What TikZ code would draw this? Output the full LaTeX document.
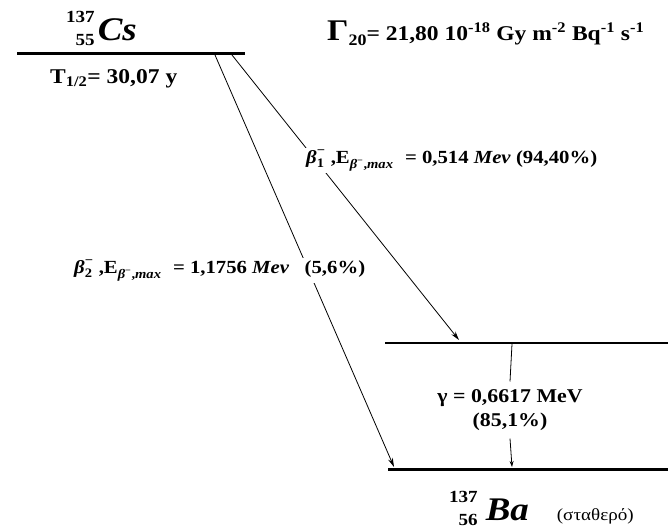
\documentclass[tikz,border=0pt]{standalone}
\usepackage{amsmath}
\usepackage{fontspec}
\setmainfont{Liberation Serif}[FakeStretch=1.12]
\usetikzlibrary{arrows.meta}

\newcommand{\fs}[1]{\fontsize{#1}{#1}\selectfont}
\newcommand{\nuc}[4]{\raisebox{-5pt}{\fs{17}\begin{tabular}[b]{@{}r@{}}#1\\[6pt]#2\end{tabular}}\hspace{#4}\textit{\fs{33}#3}}
\newcommand{\betalbl}[1]{$\text{\textit{β}}^{\text{−}}_{\text{#1}}$ ,E\raisebox{-5pt}{\fs{13}\textit{β}\textsuperscript{−},\textit{max}}\hspace{12pt}}

\begin{document}
\begin{tikzpicture}[x=1pt, y=-1pt,
    level/.style={line width=3pt},
    midlevel/.style={line width=2pt},
    decay/.style={line width=0.8pt, -{Stealth[length=9pt, width=5pt]}},
    lbl/.style={font=\bfseries\fs{18.5}, inner sep=2pt, fill=white, anchor=base west}]
  \useasboundingbox (0,0) rectangle (671,530);
  % levels
  \coordinate (cs-l) at (17,53);
  \coordinate (cs-r) at (245,53);
  \coordinate (ex-l) at (385,343);
  \coordinate (ex-r) at (668,343);
  \coordinate (gs-l) at (388,469);
  \coordinate (gs-r) at (668,469);
  \draw[level] (cs-l) -- (cs-r);
  \draw[midlevel] (ex-l) -- (ex-r);
  \draw[level] (gs-l) -- (gs-r);
  % labels
  \node[inner sep=0pt, anchor=base west] (cs) at (66,40) {\bfseries\nuc{137}{55}{Cs}{3pt}};
  \node[inner sep=0pt, anchor=base west] (dose) at (327,40)
    {\bfseries\fs{21}{\fs{30}Γ}\raisebox{-5pt}{\fs{16}20}= 21,80 10\textsuperscript{-18} Gy m\textsuperscript{-2} Bq\textsuperscript{-1} s\textsuperscript{-1}};
  \node[inner sep=0pt, anchor=base west] (half) at (50,83)
    {\bfseries\fs{21}T\textsubscript{1/2}= 30,07 y};
  % beta decays
  \coordinate (b1s) at (232,55);
  \coordinate (b2s) at (215,55);
  \coordinate (b1e) at (459,340);
  \coordinate (b2e) at (394,467);
  \draw[decay] (b1s) -- (b1e);
  \draw[decay] (b2s) -- (b2e);
  \node[lbl] (beta1) at (304,163) {\betalbl{1}= 0,514 \textit{Mev} (94,40\%)};
  \node[lbl] (beta2) at (72,273) {\betalbl{2}= 1,1756 \textit{Mev} \ \ (5,6\%)};
  % gamma
  \coordinate (g-top) at (512,344);
  \coordinate (g-bot) at (512,467);
  \node[align=center, inner sep=0pt, font=\bfseries\fs{19.5}] (gam) at (510,410)
    {γ = 0,6617 MeV\\[4pt](85,1\%)};
  \draw[line width=0.8pt] (g-top) -- ([yshift=8pt]gam.north);
  \draw[line width=0.8pt, -{Stealth[length=6pt, width=4pt]}] ([yshift=-8pt]gam.south) -- (g-bot);
  % product
  \node[inner sep=0pt, anchor=base west] (ba) at (449,520)
    {\bfseries\nuc{137}{56}{Ba}{8pt}\hspace{28pt}\mdseries\fs{17}(σταθερό)};
\end{tikzpicture}
\end{document}
